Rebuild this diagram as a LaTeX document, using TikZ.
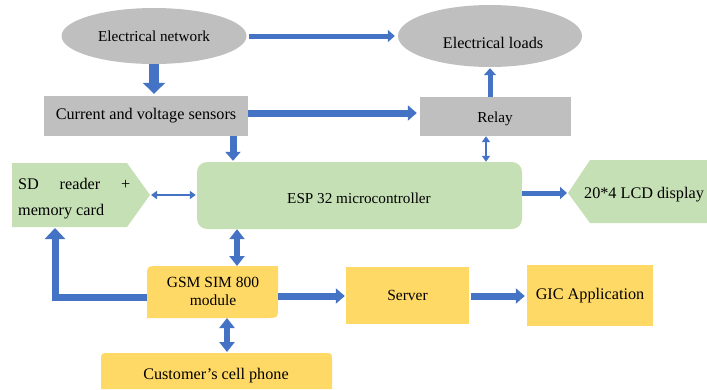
\documentclass[tikz,border=0pt]{standalone}
\usepackage{fontspec}
\setmainfont{Liberation Serif}
\usetikzlibrary{arrows.meta,shapes.geometric,calc}
\definecolor{gry}{HTML}{BFBFBF}
\definecolor{grn}{HTML}{C5E0B4}
\definecolor{ylw}{HTML}{FFD966}
\definecolor{blu}{HTML}{4472C4}
\begin{document}
\begin{tikzpicture}[x=1pt,y=-1pt,font=\fontsize{15}{18}\selectfont,
  fa/.style={font=\fontsize{15.2}{18}\selectfont},
  fb/.style={font=\fontsize{15.5}{18}\selectfont},
  fc/.style={font=\fontsize{16.2}{18}\selectfont},
  grayell/.style={ellipse,fill=gry,draw=none,inner sep=0pt},
  graybox/.style={rectangle,fill=gry,draw=none,inner sep=0pt},
  ylwbox/.style={rectangle,fill=ylw,draw=none,inner sep=0pt},
  txt/.style={inner sep=0pt,align=center},
  bigarr/.style={draw=blu,line width=10pt,-{Triangle[width=22pt,length=11pt]}},
  thkarr/.style={draw=blu,line width=7pt,-{Triangle[width=15pt,length=9pt]}},
  medarr/.style={draw=blu,line width=5pt,-{Triangle[width=12pt,length=7pt]}},
  thinarr/.style={draw=blu,line width=2.5pt,{Triangle[width=8pt,length=6pt]}-{Triangle[width=8pt,length=6pt]}},
  dblarr/.style={draw=blu,line width=6.5pt,{Triangle[width=15pt,length=10pt]}-{Triangle[width=15pt,length=10pt]}},
  larr/.style={draw=blu,line width=7pt,-{Triangle[width=20pt,length=11pt]}}]
\path[use as bounding box] (0,0) rectangle (707,389);

% nodes
\node[grayell,fa,minimum width=185pt,minimum height=56pt] (net) at (154,36) {Electrical network};
\node[grayell,minimum width=184pt,minimum height=62pt] (loads) at (490,36) {};
\node[txt,fc] (loadstxt) at (493,43) {Electrical loads};
\node[graybox,fc,minimum width=204pt,minimum height=40pt] (sens) at (146,116) {Current and voltage sensors};
\node[graybox,fa,minimum width=151pt,minimum height=39pt] (relay) at (495.5,116.5) {};
\node[txt,fa] (relaytxt) at (495,119) {Relay};
\node[rectangle,rounded corners=10pt,fill=grn,draw=none,minimum width=325pt,minimum height=67pt,inner sep=0pt] (esp) at (359.5,195.5) {};
\node[txt,fa] (esptxt) at (359,198) {ESP 32 microcontroller};

% SD reader pentagon
\fill[grn] (12,163) -- (127,163) -- (150,195) -- (127,227) -- (12,227) -- cycle;
\coordinate (sdtip) at (151,195);
\coordinate (sdbot) at (55,228);
\node[inner sep=0pt,fc,anchor=base west,align=left] (sd) at (18,215) {\makebox[112pt][l]{SD\hfill reader\hfill +}\\[8pt]memory card};

% LCD
\fill[grn] (568,193) -- (590,160) -- (707,160) -- (707,223) -- (590,223) -- cycle;
\coordinate (lcdtip) at (567,193);
\node[txt,fc] (lcd) at (644,195) {20*4 LCD display};

% GSM
\fill[ylw] (147,318) -- (147,278) .. controls (147,266) .. (159,266) -- (278,266) -- (278,306) .. controls (278,318) .. (266,318) -- cycle;
\node[txt,fb] (gsm) at (213,291) {GSM SIM 800\\module};
\coordinate (gsmN) at (237,266);
\coordinate (gsmS) at (227,318);
\coordinate (gsmW) at (147,297);
\coordinate (gsmE) at (278,296);

% Server, GIC
\node[ylwbox,fb,minimum width=123pt,minimum height=57pt] (srv) at (407.5,295.5) {Server};
\node[ylwbox,fc,minimum width=126pt,minimum height=61pt] (gic) at (590,295.5) {GIC Application};

% Customer
\fill[ylw] (101,389) -- (101,361) .. controls (101,353) .. (109,353) -- (324,353) .. controls (332,353) .. (332,361) -- (332,389) -- cycle;
\node[txt,fc] (cust) at (216,376) {Customer’s cell phone};
\coordinate (custN) at (227,352);

% connectors
\draw[medarr] ([xshift=2pt]net.east) -- ([xshift=-3pt]loads.west |- net.east);
\draw[bigarr] (net.south) -- ([yshift=2pt]net.south |- sens.north);
\draw[thkarr] (sens.east |- 0,113) -- ([xshift=-3pt]relay.west |- 0,113);
\draw[medarr] (loads.south |- relay.north) -- ([yshift=-1pt]loads.south);
\draw[thkarr] (sens.south -| 233,0) -- ([yshift=1pt]esp.north -| 233,0);
\draw[thinarr] (relay.south -| 486,0) -- (esp.north -| 486,0);
\draw[thinarr] (sdtip) -- ([xshift=-1pt]esp.west |- sdtip);
\draw[medarr] (esp.east |- lcdtip) -- (lcdtip);
\draw[dblarr] (esp.south -| gsmN) -- (gsmN);
\draw[larr] (gsmW) -| (sdbot);
\draw[thkarr] (gsmE) -- ([xshift=-1pt]srv.west |- gsmE);
\draw[thkarr] ([xshift=2pt]srv.east |- gsmE) -- ([xshift=-2pt]gic.west |- gsmE);
\draw[dblarr] (gsmS) -- (custN);
\end{tikzpicture}
\end{document}
